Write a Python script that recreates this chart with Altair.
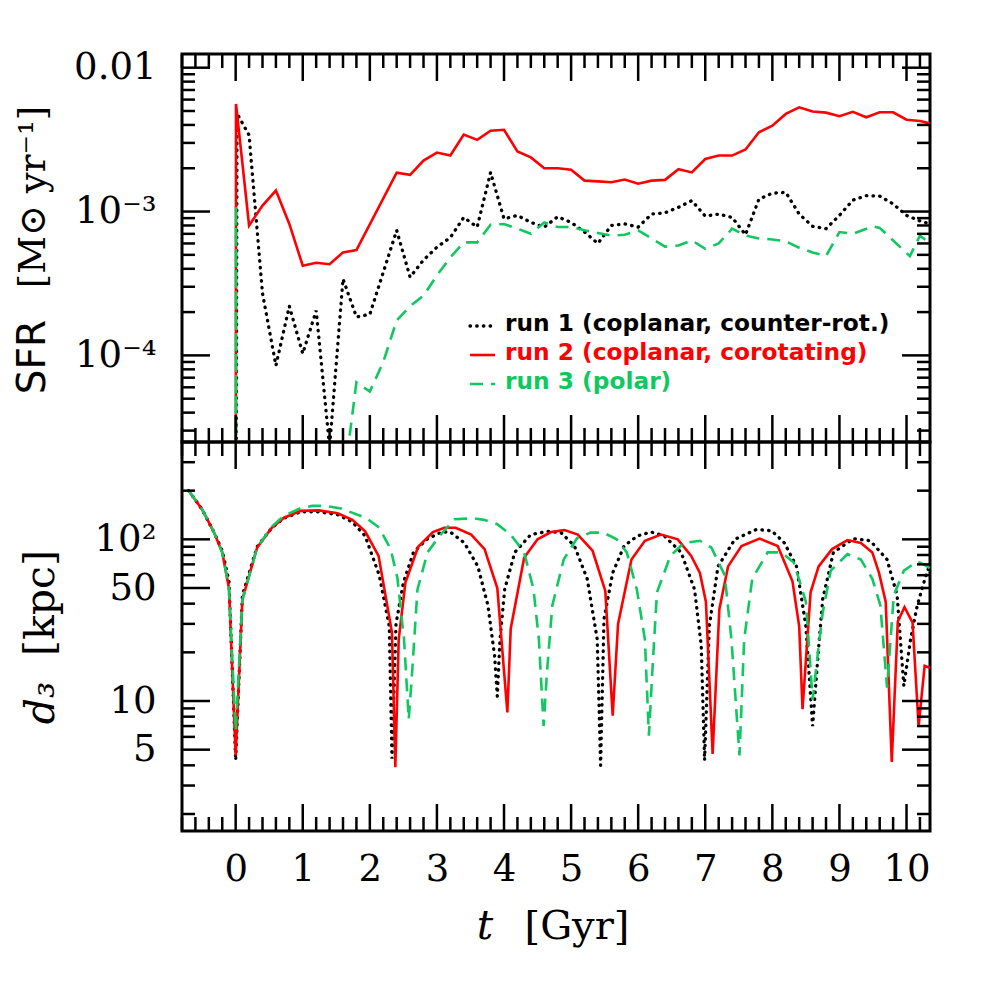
import altair as alt
import pandas as pd

# ------------------------------------------------------------------ data
RUN_NAMES = ["run 1", "run 2", "run 3"]
LEGEND_TEXT = ["run 1 (coplanar, counter-rot.)",
               "run 2 (coplanar, corotating)",
               "run 3 (polar)"]
COLORS = ["#000000", "#ff0000", "#10c860"]

# --- SFR [Msun/yr] vs t [Gyr]
T_SFR_1 = [0.0, 0.02, 0.2, 0.4, 0.6, 0.8, 1.0, 1.2, 1.4, 1.6, 1.8, 2.0, 2.4, 2.6, 2.8,
           3.0, 3.2, 3.4, 3.6, 3.8, 4.0, 4.2, 4.4, 4.6, 4.8, 5.0, 5.2, 5.4, 5.6, 5.8,
           6.0, 6.2, 6.4, 6.6, 6.8, 7.0, 7.2, 7.4, 7.6, 7.8, 8.0, 8.2, 8.4, 8.6, 8.8,
           9.0, 9.2, 9.4, 9.6, 9.8, 10.0, 10.2, 10.35]
SFR_1 = [1e-7, 4.8e-3, 3.4e-3, 2.7e-4, 8.5e-5, 2.2e-4, 1.03e-4, 2.05e-4, 2.3e-5, 3.4e-4,
         1.85e-4, 1.93e-4, 7.4e-4, 3.5e-4, 4.6e-4, 5.65e-4, 6.6e-4, 9.1e-4, 7.8e-4, 1.87e-3,
         8.9e-4, 9.4e-4, 8.4e-4, 7.8e-4, 9.2e-4, 8.4e-4, 7.2e-4, 6.0e-4, 8.0e-4, 8.2e-4,
         7.8e-4, 9.6e-4, 9.8e-4, 1.07e-3, 1.19e-3, 9.3e-4, 9.6e-4, 9.1e-4, 6.9e-4, 1.22e-3,
         1.34e-3, 1.36e-3, 9.6e-4, 7.9e-4, 7.6e-4, 9.4e-4, 1.2e-3, 1.29e-3, 1.28e-3, 1.13e-3,
         9.4e-4, 8.6e-4, 8.2e-4]

T_SFR_2 = [0.0, 0.005, 0.2, 0.4, 0.6, 0.8, 1.0, 1.2, 1.4, 1.6, 1.8, 2.4, 2.6, 2.8, 3.0,
           3.2, 3.4, 3.6, 3.8, 4.0, 4.2, 4.4, 4.6, 4.8, 5.0, 5.2, 5.4, 5.6, 5.8, 6.0,
           6.2, 6.4, 6.6, 6.8, 7.0, 7.2, 7.4, 7.6, 7.8, 8.0, 8.2, 8.4, 8.6, 8.8, 9.0,
           9.2, 9.4, 9.6, 9.8, 10.0, 10.2, 10.35]
SFR_2 = [1e-7, 5.6e-3, 8.0e-4, 1.10e-3, 1.40e-3, 8.2e-4, 4.2e-4, 4.4e-4, 4.3e-4, 5.2e-4,
         5.4e-4, 1.86e-3, 1.8e-3, 2.26e-3, 2.57e-3, 2.45e-3, 3.43e-3, 3.15e-3, 3.65e-3,
         3.7e-3, 2.62e-3, 2.38e-3, 2.0e-3, 2.0e-3, 1.95e-3, 1.64e-3, 1.62e-3, 1.6e-3,
         1.67e-3, 1.56e-3, 1.64e-3, 1.66e-3, 1.97e-3, 1.87e-3, 2.32e-3, 2.45e-3, 2.45e-3,
         2.7e-3, 3.56e-3, 3.95e-3, 4.77e-3, 5.3e-3, 4.96e-3, 4.87e-3, 4.6e-3, 4.93e-3,
         4.52e-3, 4.9e-3, 4.9e-3, 4.35e-3, 4.26e-3, 4.1e-3]

T_SFR_3 = [0.0, 0.005, 0.01, 1.6, 1.8, 2.0, 2.2, 2.4, 2.6, 2.8, 3.0, 3.2, 3.4, 3.6, 3.8,
           4.0, 4.2, 4.4, 4.6, 4.8, 5.0, 5.2, 5.4, 5.6, 5.8, 6.0, 6.4, 6.6, 6.8, 7.0,
           7.2, 7.4, 7.6, 7.8, 8.0, 8.2, 8.4, 8.6, 8.8, 9.0, 9.2, 9.5, 9.6, 10.05, 10.2,
           10.35]
SFR_3 = [1e-7, 1.1e-3, 1e-7, 1.2e-5, 6.5e-5, 5.6e-5, 9.0e-5, 1.75e-4, 2.2e-4, 2.6e-4,
         3.6e-4, 4.8e-4, 6.1e-4, 6.1e-4, 8.1e-4, 8.2e-4, 7.6e-4, 7.0e-4, 8.4e-4, 7.8e-4,
         7.8e-4, 7.4e-4, 7.1e-4, 6.8e-4, 6.9e-4, 7.4e-4, 5.7e-4, 5.8e-4, 6.3e-4, 5.5e-4,
         6.0e-4, 7.6e-4, 6.8e-4, 6.5e-4, 6.4e-4, 6.2e-4, 5.6e-4, 5.2e-4, 4.9e-4, 7.2e-4,
         7.0e-4, 7.9e-4, 7.7e-4, 4.9e-4, 6.8e-4, 6.0e-4]

# --- d3 [kpc] vs t [Gyr]
T_D3_1 = [-0.70, -0.50, -0.33, -0.20, -0.10, 0.0, 0.1, 0.32, 0.54, 0.72, 0.97, 1.24, 1.52,
          1.74, 1.93, 2.14, 2.29, 2.33, 2.39, 2.50, 2.65, 2.85, 3.07, 3.20, 3.41, 3.61,
          3.76, 3.86, 3.90, 3.94, 4.01, 4.16, 4.40, 4.65, 4.85, 5.05, 5.24, 5.39, 5.44,
          5.49, 5.62, 5.79, 5.99, 6.19, 6.39, 6.64, 6.84, 6.94, 6.99, 7.06, 7.19, 7.44,
          7.76, 7.99, 8.18, 8.36, 8.50, 8.60, 8.68, 8.75, 8.91, 9.21, 9.46, 9.71, 9.86,
          9.96, 10.06, 10.16, 10.31, 10.35]
D3_1 = [200, 153, 112, 85, 55, 4.3, 45, 90, 118, 135, 148, 148, 142, 128, 105, 60, 29,
        4.4, 30, 54, 83, 100, 111, 111, 95, 68, 39, 19, 10.7, 24, 49, 83, 107, 112, 110,
        91, 57, 24, 4.0, 32, 62, 91, 105, 111, 105, 83, 49, 22, 4.3, 29, 68, 100, 115,
        113, 95, 68, 29, 7.0, 19, 42.5, 83, 101, 98, 75, 45, 12.4, 24, 39, 64, 68]

T_D3_2 = [-0.70, -0.50, -0.33, -0.20, -0.10, 0.0, 0.1, 0.32, 0.54, 0.72, 0.97, 1.24, 1.52,
          1.74, 1.93, 2.13, 2.33, 2.38, 2.43, 2.53, 2.72, 2.94, 3.11, 3.28, 3.51, 3.71,
          3.90, 4.05, 4.10, 4.30, 4.50, 4.70, 4.90, 5.10, 5.32, 5.51, 5.62, 5.70, 5.90,
          6.10, 6.34, 6.59, 6.79, 6.92, 7.01, 7.11, 7.21, 7.34, 7.54, 7.81, 8.08, 8.30,
          8.40, 8.45, 8.57, 8.69, 8.89, 9.12, 9.32, 9.49, 9.59, 9.69, 9.78, 9.87, 9.97,
          10.09, 10.18, 10.27, 10.35]
D3_2 = [200, 153, 112, 83, 50, 4.6, 42.5, 89, 118, 136, 150, 151, 145, 132, 112, 79,
        26.5, 3.9, 24, 54, 90, 111, 118, 118, 107, 87, 50, 8.5, 28, 77, 100, 111, 114,
        107, 85, 48, 8.1, 30, 75, 98, 107, 100, 79, 62, 41, 4.7, 37, 68, 91, 101, 91, 55,
        29, 8.9, 47, 68, 87, 99, 95, 83, 62, 41, 4.2, 31, 38, 30.5, 7.0, 16.5, 16]

T_D3_3 = [-0.70, -0.50, -0.33, -0.20, -0.10, 0.0, 0.1, 0.32, 0.54, 0.72, 0.97, 1.14, 1.34,
          1.57, 1.94, 2.14, 2.31, 2.41, 2.51, 2.58, 2.63, 2.71, 2.86, 3.04, 3.26, 3.55,
          3.70, 3.90, 4.10, 4.30, 4.44, 4.52, 4.59, 4.64, 4.72, 4.89, 5.09, 5.29, 5.48,
          5.68, 5.83, 5.98, 6.10, 6.16, 6.21, 6.28, 6.48, 6.68, 6.92, 7.09, 7.29, 7.39,
          7.51, 7.58, 7.70, 7.93, 8.13, 8.32, 8.50, 8.60, 8.68, 8.75, 8.87, 9.12, 9.32,
          9.49, 9.61, 9.71, 9.81, 9.96, 10.16, 10.31, 10.35]
D3_3 = [200, 153, 112, 83, 50, 6.5, 42, 89, 120, 140, 156, 161, 161, 155, 136, 118, 87,
        58, 24, 7.7, 15, 49, 83, 105, 133, 135, 132, 124, 107, 83, 49, 24, 7.0, 15, 39,
        75, 102, 110, 110, 100, 83, 49, 24, 6.1, 15, 47, 79, 95, 98, 89, 60, 24, 4.6, 24,
        57, 83, 83, 72, 41, 10.2, 20, 35, 64, 81, 75, 57, 39, 12.1, 45, 64, 73, 68, 66]

# --- axes
X_DOMAIN = [-0.8, 10.35]
SFR_DOMAIN = [2.5e-5, 0.01245]
D3_DOMAIN = [1.57, 400]
X_TICKS_MAJOR = list(range(0, 11))
X_TICKS_MINOR = [round(-0.8 + 0.2 * k, 1) for k in range(0, 56)]
X_TICKS_MINOR = [v for v in X_TICKS_MINOR if abs(v - round(v)) > 1e-6]
SFR_TICKS = [1e-4, 1e-3, 1e-2]
SFR_TICK_LABELS = ["10⁻⁴", "10⁻³", "0.01"]
SFR_MINOR = [m * 10.0 ** e for e in (-5, -4, -3) for m in range(2, 10)]
D3_TICKS = [5, 10, 50, 100]
D3_TICK_LABELS = ["5", "10", "50", "10²"]
D3_MINOR = [2, 3, 4, 6, 7, 8, 9, 20, 30, 40, 60, 70, 80, 90, 200, 300, 400]

# ------------------------------------------------------------------ helpers
W = 748
H_TOP = 388
H_BOT = 389
SERIF = "DejaVu Serif"


def make_df(ts, vs, run):
    return pd.DataFrame({"t": ts, "v": vs, "run": run, "i": range(len(ts))})


sfr_df = pd.concat([make_df(T_SFR_1, SFR_1, RUN_NAMES[0]),
                    make_df(T_SFR_2, SFR_2, RUN_NAMES[1]),
                    make_df(T_SFR_3, SFR_3, RUN_NAMES[2])], ignore_index=True)
d3_df = pd.concat([make_df(T_D3_1, D3_1, RUN_NAMES[0]),
                   make_df(T_D3_2, D3_2, RUN_NAMES[1]),
                   make_df(T_D3_3, D3_3, RUN_NAMES[2])], ignore_index=True)

x_scale = alt.Scale(domain=X_DOMAIN, nice=False, zero=False)
sfr_scale = alt.Scale(type="log", domain=SFR_DOMAIN, nice=False)
d3_scale = alt.Scale(type="log", domain=D3_DOMAIN, nice=False)


def label_expr(values, labels):
    expr = "''"
    for v, lab in zip(values, labels):
        expr = f"abs(datum.value - {v}) < {v * 1e-3} ? '{lab}' : ({expr})"
    return expr


def y_axis(values, labels):
    return alt.Axis(values=values, labelExpr=label_expr(values, labels),
                    labelFont=SERIF, labelFontSize=37, labelColor="black",
                    ticks=False, tickSize=0, domain=False, grid=False,
                    labelPadding=26, title=None, labelFlush=False)


x_axis_bottom = alt.Axis(values=X_TICKS_MAJOR, format="d", labelFont=SERIF,
                         labelFontSize=37, labelColor="black", ticks=False,
                         tickSize=0, domain=False, grid=False, labelPadding=20,
                         title=None, labelFlush=False)

STYLES = [
    dict(color=COLORS[0], strokeDash=[0.5, 6.2], strokeWidth=3.3, strokeCap="round"),
    dict(color=COLORS[1], strokeWidth=2.6),
    dict(color=COLORS[2], strokeDash=[13, 8], strokeWidth=2.6),
]


def series_layers(df, yscale, xaxis, yaxis):
    out = []
    for run, st in zip(RUN_NAMES, STYLES):
        out.append(
            alt.Chart(df).transform_filter(alt.datum.run == run)
            .mark_line(clip=True, **st)
            .encode(x=alt.X("t:Q", scale=x_scale, axis=xaxis),
                    y=alt.Y("v:Q", scale=yscale, axis=yaxis),
                    order="i:Q")
        )
    return out


def tick_layers(yscale, y_major, y_minor, H, xaxis, yaxis):
    out = []
    rule = dict(color="black", strokeWidth=2.5)
    for vals, L in [(X_TICKS_MAJOR, 27), (X_TICKS_MINOR, 14)]:
        df = pd.DataFrame({"v": vals})
        xenc = alt.X("v:Q", scale=x_scale, axis=xaxis)
        out.append(alt.Chart(df).mark_rule(**rule).encode(
            x=xenc, y=alt.value(H), y2=alt.value(H - L)))
        out.append(alt.Chart(df).mark_rule(**rule).encode(
            x=xenc, y=alt.value(0), y2=alt.value(L)))
    for vals, L in [(y_major, 28), (y_minor, 13)]:
        vals = [v for v in vals if yscale.domain[0] <= v <= yscale.domain[1]]
        df = pd.DataFrame({"v": vals})
        yenc = alt.Y("v:Q", scale=yscale, axis=yaxis)
        out.append(alt.Chart(df).mark_rule(**rule).encode(
            y=yenc, x=alt.value(0), x2=alt.value(L)))
        out.append(alt.Chart(df).mark_rule(**rule).encode(
            y=yenc, x=alt.value(W), x2=alt.value(W - L)))
    return out


def text_mark(txt, x, y, **kw):
    return alt.Chart(pd.DataFrame({"label": [txt]})).mark_text(**kw).encode(
        text="label:N", x=alt.value(x), y=alt.value(y))


# ------------------------------------------------------------------ top panel
top_yaxis = y_axis(SFR_TICKS, SFR_TICK_LABELS)
top_layers = series_layers(sfr_df, sfr_scale, None, top_yaxis)
top_layers += tick_layers(sfr_scale, SFR_TICKS, SFR_MINOR, H_TOP, None, top_yaxis)

# y title
top_layers.append(text_mark("SFR", -137, 303, font="DejaVu Sans", fontSize=39,
                            angle=270, align="center", baseline="alphabetic",
                            color="black"))
top_layers.append(text_mark("[M⊙ yr⁻¹]", -137, 143, font=SERIF, fontSize=37,
                            angle=270, align="center", baseline="alphabetic",
                            color="black"))

# legend
LEG_X0, LEG_X1, LEG_TX = 288, 313, 323
LEG_BASE = [277, 306, 335]
for k in range(3):
    st = STYLES[k]
    top_layers.append(
        alt.Chart(pd.DataFrame({"run": [RUN_NAMES[k]]})).mark_rule(**st).encode(
            x=alt.value(LEG_X0), x2=alt.value(LEG_X1), y=alt.value(LEG_BASE[k] - 5)))
    top_layers.append(text_mark(LEGEND_TEXT[k], LEG_TX, LEG_BASE[k],
                                font="DejaVu Sans", fontSize=23.3, fontWeight="bold",
                                align="left", baseline="alphabetic", color=COLORS[k]))

top = alt.layer(*top_layers).properties(width=W, height=H_TOP)

# ------------------------------------------------------------------ bottom panel
bot_yaxis = y_axis(D3_TICKS, D3_TICK_LABELS)
bot_layers = series_layers(d3_df, d3_scale, x_axis_bottom, bot_yaxis)
bot_layers += tick_layers(d3_scale, D3_TICKS, D3_MINOR, H_BOT, x_axis_bottom, bot_yaxis)

bot_layers.append(text_mark("d₃", -128, 261, font=SERIF, fontSize=41, fontStyle="italic",
                            angle=270, align="center", baseline="alphabetic",
                            color="black"))
bot_layers.append(text_mark("[kpc]", -128, 161, font=SERIF, fontSize=41,
                            angle=270, align="center", baseline="alphabetic",
                            color="black"))
bot_layers.append(text_mark("t", 303, 497, font=SERIF, fontSize=41, fontStyle="italic",
                            align="center", baseline="alphabetic", color="black"))
bot_layers.append(text_mark("[Gyr]", 395, 497, font=SERIF, fontSize=40,
                            align="center", baseline="alphabetic", color="black"))

bottom = alt.layer(*bot_layers).properties(width=W, height=H_BOT)

chart = (
    alt.vconcat(top, bottom, spacing=0, bounds="flush")
    .properties(padding={"left": 4, "top": 39, "right": 5, "bottom": 5},
                background="white")
    .configure_view(stroke="black", strokeWidth=3)
)

chart.save("out.html", embed_options={"renderer": "svg", "actions": False})
